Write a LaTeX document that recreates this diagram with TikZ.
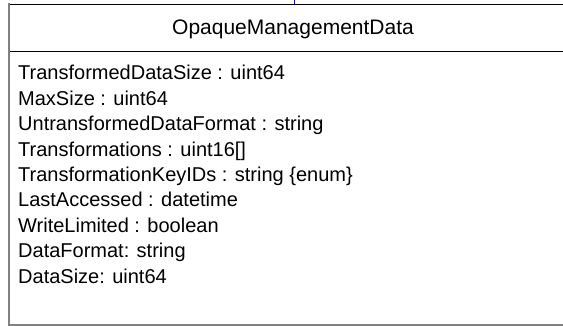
\documentclass[tikz,border=0pt]{standalone}
\usepackage{fontspec}
\setmainfont{Liberation Sans}
\begin{document}
\begin{tikzpicture}[x=1pt,y=-1pt,
  txt/.style={inner sep=0pt,font=\fontsize{20}{24}\selectfont},
  attr/.style={txt,anchor=base west},
  edgeblack/.style={draw=black,line width=1.5pt},
  edgegray/.style={draw=black!50,line width=2pt}]
\useasboundingbox (0,0) rectangle (563,326);
\begin{scope}
\clip (0,0) rectangle (563,326);
% class box outline (right side runs off the picture)
\coordinate (tl) at (9,4.5);
\coordinate (tr) at (570,4.5);
\coordinate (bl) at (9,325);
\coordinate (br) at (570,325);
\coordinate (sl) at (9,51.5);
\coordinate (sr) at (570,51.5);
\draw[edgeblack] (tl) -- (tr);
\draw[edgeblack] (sl) -- (sr);
\draw[edgegray] (9,3.5) -- (bl) -- (br);
% connector entering from above
\coordinate (ctop) at (294,-1);
\coordinate (cbot) at (294,4.5);
\draw[blue,line width=1pt] (ctop) -- (cbot);
\end{scope}
\node[txt,anchor=base,font=\fontsize{21}{25}\selectfont] (title) at (293,34.5) {OpaqueManagementData};
\node[attr] (a1) at (18,80) {TransformedDataSize : uint64};
\node[attr] (a2) at (18,105.4) {MaxSize : uint64};
\node[attr] (a3) at (18,130.8) {UntransformedDataFormat : string};
\node[attr] (a4) at (18,156.2) {Transformations : uint16[]};
\node[attr] (a5) at (18,181.6) {TransformationKeyIDs : string \{enum\}};
\node[attr] (a6) at (18,207) {LastAccessed : datetime};
\node[attr] (a7) at (18,232.4) {WriteLimited : boolean};
\node[attr] (a8) at (18,257.8) {DataFormat: string};
\node[attr] (a9) at (18,283.2) {DataSize: uint64};
\end{tikzpicture}
\end{document}
